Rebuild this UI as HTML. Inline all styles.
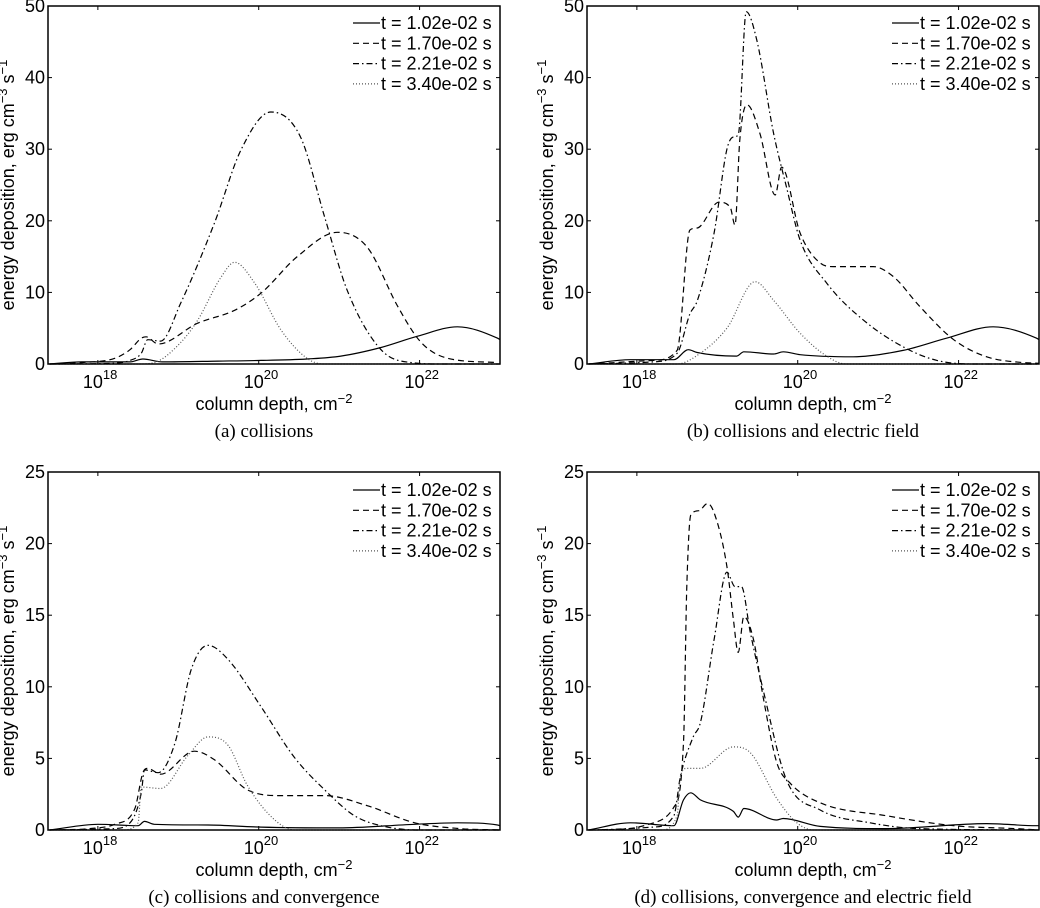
<!DOCTYPE html>
<html><head><meta charset="utf-8"><style>
body{margin:0;background:#fff;width:1040px;height:908px;overflow:hidden}
svg{display:block}
text{font-family:"Liberation Sans",sans-serif;fill:#000}
.cap{font-family:"Liberation Serif",serif;font-size:19px}
</style></head><body>
<svg id="fig" width="1040" height="908" viewBox="0 0 1040 908"></svg>
<script>
// x values are log10(column depth); y values are energy deposition
const seriesNames = ["t = 1.02e-02 s","t = 1.70e-02 s","t = 2.21e-02 s","t = 3.40e-02 s"];
const xTickLabels = [18,20,22];
const yTicksTop = [0,10,20,30,40,50];
const yTicksBottom = [0,5,10,15,20,25];
const captions = ["(a) collisions","(b) collisions and electric field","(c) collisions and convergence","(d) collisions, convergence and electric field"];

const aSolidX=[17.4,17.8,18.4,18.56,18.8,19.5,20.03,20.6,21.02,21.52,21.98,22.47,22.97,23];
const aSolidY=[0,0.3,0.3,0.7,0.3,0.4,0.5,0.7,1.1,2.3,3.9,5.2,3.6,3.4];
const aDashX=[17.4,17.8,18.21,18.4,18.54,18.6,18.75,19.24,19.7,20.03,20.48,20.98,21.35,21.73,22.02,22.35,22.97];
const aDashY=[0,0.2,0.8,2.0,3.6,3.8,2.8,5.7,7.5,9.9,15,18.4,16.3,8,3,0.8,0.2];
const aDDX=[17.4,18.2,18.4,18.54,18.62,18.78,19.03,19.45,19.78,20.15,20.52,20.82,21.1,21.52,21.9,22.3,23];
const aDDY=[0,0.1,0.5,1.5,3.4,3.2,8.5,19.7,29.9,35.2,31.7,20.5,10.3,2,0.2,0,0];
const aDotX=[17.4,18.5,18.7,19.03,19.24,19.53,19.7,19.95,20.28,20.6,20.8,23];
const aDotY=[0,0,0.2,3.0,6.1,12.1,14.2,11.3,4.7,0.8,0,0];

const bSolidX=[17.4,17.92,18.46,18.64,18.75,19.24,19.33,19.7,19.82,20.03,20.69,21.31,21.85,22.43,22.97,23];
const bSolidY=[0,0.6,0.6,2.0,1.6,1.1,1.7,1.4,1.7,1.3,1.0,1.9,3.6,5.2,3.6,3.4];
const bDashX=[17.4,18.2,18.5,18.66,18.75,19.02,19.16,19.22,19.28,19.37,19.53,19.72,19.8,20.03,20.28,20.44,20.94,21.19,21.52,21.94,22.35,22.8,23];
const bDashY=[0,0.5,1.9,18.7,19,22.6,21.9,19.4,31.3,36.2,32.2,23.6,27.5,18.3,14.1,13.6,13.6,12.2,8,3.4,1,0.2,0.1];
const bDDX=[17.4,18.2,18.5,18.66,18.75,18.96,19.12,19.2,19.26,19.36,19.49,19.7,19.86,20.03,20.36,20.82,21.31,21.73,22.2,23];
const bDDY=[0,0.3,1.5,7,8.8,18.3,30,31.7,32,49.2,45.3,32.2,24.7,17.3,11.3,6.1,2.4,0.5,0,0];
const bDotX=[17.4,18.5,18.75,19.12,19.47,19.7,20.03,20.36,20.6,23];
const bDotY=[0,0,1.2,5,11.5,8.9,4.3,1.1,0,0];

const cSolidX=[17.4,18.0,18.5,18.58,18.7,19.37,20.03,21.0,21.94,22.47,22.97,23];
const cSolidY=[0,0.4,0.3,0.6,0.4,0.35,0.2,0.15,0.4,0.5,0.35,0.3];
const cDashX=[17.4,17.9,18.21,18.46,18.56,18.62,18.78,19.2,19.45,19.86,20.28,20.82,21.35,21.94,22.5,23];
const cDashY=[0,0.1,0.4,1.5,4.0,4.3,3.9,5.5,4.9,2.8,2.4,2.4,1.7,0.5,0.1,0];
const cDDX=[17.4,18.2,18.4,18.54,18.58,18.75,18.96,19.16,19.37,19.62,20.03,20.44,20.82,21.19,21.52,22,23];
const cDDY=[0,0.1,0.5,2.6,4.2,4.0,6.1,11.2,12.9,11.9,8.6,5.1,2.8,1.0,0.3,0,0];
const cDotX=[17.4,18.3,18.5,18.54,18.78,19.12,19.37,19.62,19.86,20.2,20.45,23];
const cDotY=[0,0,0.5,3.0,2.9,5.2,6.5,5.9,3.1,0.7,0,0];

const dSolidX=[17.4,17.92,18.46,18.58,18.67,18.79,19.2,19.26,19.33,19.74,19.82,20.28,21.1,22.35,22.97,23];
const dSolidY=[0,0.5,0.3,2.1,2.6,2.1,1.3,0.9,1.5,0.7,0.8,0.25,0.1,0.45,0.3,0.3];
const dDashX=[17.4,17.9,18.21,18.46,18.58,18.62,18.67,18.77,18.88,18.97,19.12,19.2,19.26,19.33,19.45,19.57,19.74,19.9,20.28,21.1,21.94,22.7,23];
const dDashY=[0,0.1,0.5,1.6,6.1,16.8,22,22.3,22.8,22,18.4,14.7,12.4,14.9,13.3,9.3,4.7,3.3,1.9,1.0,0.3,0.1,0];
const dDDX=[17.4,18.2,18.46,18.54,18.7,18.79,18.96,19.12,19.22,19.3,19.41,19.57,19.86,20.28,20.9,21.5,23];
const dDDY=[0,0.2,1.0,3.7,6.5,7.5,13.3,18,17,17,13.8,9.8,3.5,1.4,0.5,0.1,0];
const dDotX=[17.4,18.3,18.5,18.54,18.62,18.79,19.2,19.41,19.74,19.99,20.2,23];
const dDotY=[0,0,1.0,3.7,4.3,4.3,5.8,5.4,2.2,0.5,0,0];

const panels=[
 {id:"a",L:48,T:6,B:364,ymax:50,yt:yTicksTop,cap:captions[0],s:[[aSolidX,aSolidY],[aDashX,aDashY],[aDDX,aDDY],[aDotX,aDotY]],legY:29},
 {id:"b",L:587,T:6,B:364,ymax:50,yt:yTicksTop,cap:captions[1],s:[[bSolidX,bSolidY],[bDashX,bDashY],[bDDX,bDDY],[bDotX,bDotY]],legY:29},
 {id:"c",L:48,T:472,B:830,ymax:25,yt:yTicksBottom,cap:captions[2],s:[[cSolidX,cSolidY],[cDashX,cDashY],[cDDX,cDDY],[cDotX,cDotY]],legY:496},
 {id:"d",L:587,T:472,B:830,ymax:25,yt:yTicksBottom,cap:captions[3],s:[[dSolidX,dSolidY],[dDashX,dDashY],[dDDX,dDDY],[dDotX,dDotY]],legY:496}
];
const styles=[{d:"",c:"#000",w:1.2},{d:"6,4",c:"#000",w:1.2},{d:"6,3,1.5,3",c:"#000",w:1.2},{d:"1,2",c:"#555",w:1.2}];
const NS="http://www.w3.org/2000/svg";
const svg=document.getElementById("fig");
const W=452, XMIN=17.38, XMAX=23;
function mk(tag,attrs,parent){const e=document.createElementNS(NS,tag);for(const k in attrs)e.setAttribute(k,attrs[k]);(parent||svg).appendChild(e);return e;}
function monoPath(P){
  const n=P.length;if(n<2)return "";
  const dx=[],m=[],t=new Array(n);
  for(let i=0;i<n-1;i++){dx.push(P[i+1][0]-P[i][0]);m.push((P[i+1][1]-P[i][1])/(dx[i]||1e-6));}
  t[0]=m[0];t[n-1]=m[n-2];
  for(let i=1;i<n-1;i++){t[i]=(m[i-1]*m[i]<=0)?0:(m[i-1]+m[i])/2;}
  for(let i=0;i<n-1;i++){
    if(m[i]===0){t[i]=0;t[i+1]=0;continue;}
    const a=t[i]/m[i],b=t[i+1]/m[i],s=a*a+b*b;
    if(s>9){const k=3/Math.sqrt(s);t[i]=k*a*m[i];t[i+1]=k*b*m[i];}
  }
  let d="M"+P[0][0].toFixed(1)+","+P[0][1].toFixed(1);
  for(let i=0;i<n-1;i++){
    const h=dx[i]/3;
    d+=" C"+(P[i][0]+h).toFixed(1)+","+(P[i][1]+t[i]*h).toFixed(1)+" "+(P[i+1][0]-h).toFixed(1)+","+(P[i+1][1]-t[i+1]*h).toFixed(1)+" "+P[i+1][0].toFixed(1)+","+P[i+1][1].toFixed(1);
  }
  return d;
}
panels.forEach(p=>{
  const g=mk("g",{});
  
  
  const xs=v=>p.L+(v-XMIN)/(XMAX-XMIN)*W;
  const ys=v=>p.B-v/p.ymax*(p.B-p.T);
  const R=p.L+W;
  p.s.forEach((sr,i)=>{
    const P=sr[0].map((x,j)=>[xs(x),ys(sr[1][j])]);
    const pl=mk("path",{d:monoPath(P),fill:"none",stroke:styles[i].c,"stroke-width":styles[i].w,"stroke-dasharray":styles[i].d,"stroke-linejoin":"round"},g);
    
    
  });
  const fr=mk("rect",{x:p.L,y:p.T,width:W,height:p.B-p.T,fill:"none",stroke:"#000","stroke-width":1.5},g);
  
  
  p.yt.forEach(v=>{
    const y=ys(v);
    mk("line",{x1:p.L,x2:p.L+4,y1:y,y2:y,stroke:"#000"},g);
    mk("line",{x1:R,x2:R-4,y1:y,y2:y,stroke:"#000"},g);
    const t=mk("text",{x:p.L-3,y:y+6,"text-anchor":"end","font-size":18},g);
    t.textContent=v;
    
    
  });
  xTickLabels.forEach(v=>{
    const x=xs(v);
    mk("line",{x1:x,x2:x,y1:p.B,y2:p.B-4,stroke:"#000"},g);
    mk("line",{x1:x,x2:x,y1:p.T,y2:p.T+4,stroke:"#000"},g);
    const t=mk("text",{x:x-5,y:p.B+24,"text-anchor":"middle","font-size":18},g);
    t.textContent="10";
    
    
    const s=mk("text",{x:x+5,y:p.B+15,"font-size":13},g);
    s.textContent=v;
  });
  const xl=mk("text",{x:p.L+W/2,y:p.B+46,"text-anchor":"middle","font-size":18},g);
  
  
  xl.innerHTML='column depth, cm<tspan dy="-7" font-size="13">−2</tspan>';
  const cy=(p.T+p.B)/2, lx=p.L-34;
  const yl=mk("text",{x:lx,y:cy,"text-anchor":"middle","font-size":18,transform:`rotate(-90 ${lx} ${cy})`},g);
  
  
  yl.innerHTML='energy deposition, erg cm<tspan dy="-7" font-size="13">−3</tspan><tspan dy="7"> s</tspan><tspan dy="-7" font-size="13">−1</tspan>';
  const cp=mk("text",{x:p.L+W/2-10,y:p.B+73,"text-anchor":"middle",class:"cap"},g);
  cp.textContent=p.cap;
  
  
  const lg=mk("g",{},g);
  
  
  seriesNames.forEach((n,i)=>{
    const y=p.legY+i*20.3;
    mk("line",{x1:R-147,x2:R-120,y1:y-6,y2:y-6,stroke:styles[i].c,"stroke-width":1.2,"stroke-dasharray":styles[i].d},lg);
    const t=mk("text",{x:R-119,y:y,"font-size":18},lg);
    t.textContent=n;
    
    
  });
});
</script>
</body></html>
